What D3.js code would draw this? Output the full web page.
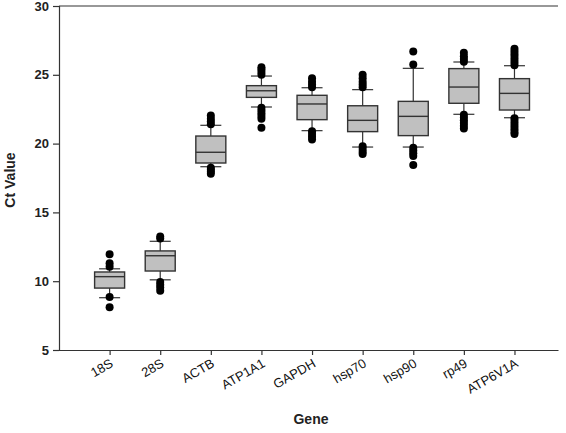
<!DOCTYPE html>
<html><head><meta charset="utf-8">
<script src="https://cdn.jsdelivr.net/npm/d3@7"></script>
<style>body{margin:0;background:#fff}svg{display:block}text{font-family:"Liberation Sans",Arial,sans-serif}</style>
</head><body>
<svg id="c" width="566" height="433"></svg>
<script>
const categories = ["18S","28S","ACTB","ATP1A1","GAPDH","hsp70","hsp90","rp49","ATP6V1A"];
const whiskerLow  = [8.8, 10.1, 18.32, 22.66, 20.94, 19.75, 19.75, 22.13, 21.88];
const q1          = [9.5, 10.74, 18.59, 23.36, 21.74, 20.87, 20.58, 22.93, 22.44];
const median      = [10.33, 11.85, 19.37, 23.84, 22.88, 21.69, 21.98, 24.11, 23.65];
const q3          = [10.67, 12.2, 20.55, 24.21, 23.51, 22.75, 23.07, 25.45, 24.72];
const whiskerHigh = [10.9, 12.9, 21.33, 24.91, 24.06, 23.92, 25.47, 25.93, 25.66];
const outliers = [
  [11.05, 11.3, 11.95, 8.85, 8.1],
  [13.1, 13.25, 9.95, 9.75, 9.55, 9.3],
  [21.4, 21.6, 21.8, 22.05, 18.25, 18.1, 17.95, 17.8],
  [25.0, 25.2, 25.4, 25.55, 22.6, 22.4, 22.2, 22.0, 21.8, 21.15],
  [24.1, 24.3, 24.5, 24.75, 20.9, 20.7, 20.5, 20.3],
  [24.1, 24.3, 24.5, 24.75, 25.0, 19.8, 19.6, 19.4, 19.25],
  [25.75, 26.7, 19.7, 19.5, 19.3, 19.1, 18.45],
  [25.95, 26.15, 26.35, 26.6, 22.1, 21.9, 21.7, 21.5, 21.3, 21.1],
  [25.7, 25.9, 26.1, 26.3, 26.5, 26.7, 26.9, 21.85, 21.65, 21.45, 21.25, 21.05, 20.85, 20.7]
];
const yTicks = [5, 10, 15, 20, 25, 30];

const svg = d3.select("#c");
const L = 59, R = 558, T = 6, B = 350;
const x = d3.scaleLinear().domain([0, 9.86]).range([L, R]);
const y = d3.scaleLinear().domain([5, 30]).range([B, T]);
const axisColor = "#333";
const boxW = 30, capW = 21;

// top frame line
svg.append("line").attr("x1", L).attr("x2", R).attr("y1", T).attr("y2", T)
  .attr("stroke", axisColor).attr("stroke-width", 1.2);

// y axis
const ya = svg.append("g").attr("transform", `translate(${L},0)`)
  .call(d3.axisLeft(y).tickValues(yTicks).tickSize(6).tickPadding(4).tickFormat(d3.format("d")));
ya.select(".domain").attr("stroke", axisColor).attr("stroke-width", 1.2);
ya.selectAll(".tick line").attr("stroke", axisColor).attr("stroke-width", 1.2);
ya.selectAll(".tick text").attr("font-size", 13).attr("font-weight", "bold").attr("fill", "#222")
  .attr("font-family", "Liberation Sans, Arial, sans-serif");

// x axis
const xa = svg.append("g").attr("transform", `translate(0,${B})`)
  .call(d3.axisBottom(x).tickValues(categories.map((c, i) => i + 1)).tickSize(5).tickSizeOuter(0)
    .tickFormat((d) => categories[d - 1]));
xa.select(".domain").attr("stroke", axisColor).attr("stroke-width", 1.2);
xa.selectAll(".tick line").attr("stroke", axisColor).attr("stroke-width", 1.2);
xa.selectAll(".tick text").attr("font-size", 13).attr("fill", "#111")
  .attr("font-family", "Liberation Sans, Arial, sans-serif")
  .attr("text-anchor", "end").attr("dy", null).attr("y", 0)
  .attr("transform", "translate(4,16) rotate(-30)");

// boxes
const g = svg.append("g");
categories.forEach((c, i) => {
  const cx = x(i + 1);
  const gg = g.append("g");
  gg.append("line").attr("x1", cx).attr("x2", cx).attr("y1", y(whiskerHigh[i])).attr("y2", y(q3[i]))
    .attr("stroke", axisColor).attr("stroke-width", 1.2);
  gg.append("line").attr("x1", cx).attr("x2", cx).attr("y1", y(q1[i])).attr("y2", y(whiskerLow[i]))
    .attr("stroke", axisColor).attr("stroke-width", 1.2);
  [whiskerHigh[i], whiskerLow[i]].forEach(v => {
    gg.append("line").attr("x1", cx - capW / 2).attr("x2", cx + capW / 2).attr("y1", y(v)).attr("y2", y(v))
      .attr("stroke", axisColor).attr("stroke-width", 1.2);
  });
  gg.append("rect").attr("x", cx - boxW / 2).attr("width", boxW)
    .attr("y", y(q3[i])).attr("height", y(q1[i]) - y(q3[i]))
    .attr("fill", "#c0c0c0").attr("stroke", axisColor).attr("stroke-width", 1.4);
  gg.append("line").attr("x1", cx - boxW / 2).attr("x2", cx + boxW / 2).attr("y1", y(median[i])).attr("y2", y(median[i]))
    .attr("stroke", axisColor).attr("stroke-width", 1.4);
  gg.selectAll("circle.o").data(outliers[i]).join("circle").attr("class", "o")
    .attr("cx", cx).attr("cy", d => y(d)).attr("r", 4).attr("fill", "#000");
});

// titles
svg.append("text").attr("transform", "translate(15,180) rotate(-90)").attr("text-anchor", "middle")
  .attr("font-size", 14).attr("font-weight", "bold").attr("fill", "#222").text("Ct Value");
svg.append("text").attr("x", 311).attr("y", 424).attr("text-anchor", "middle")
  .attr("font-size", 14).attr("font-weight", "bold").attr("fill", "#222").text("Gene");
</script>
</body></html>
